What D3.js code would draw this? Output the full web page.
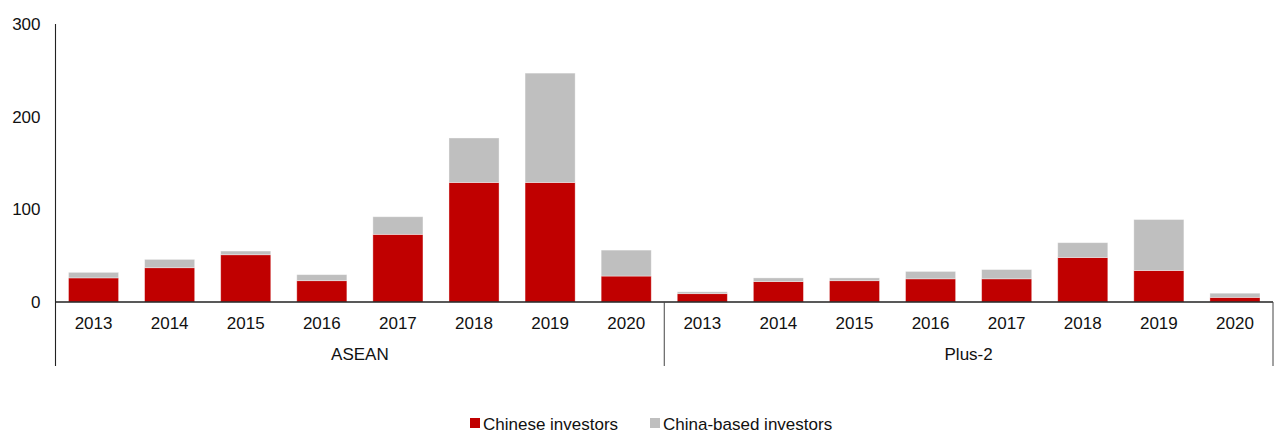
<!DOCTYPE html>
<html>
<head>
<meta charset="utf-8">
<script src="https://d3js.org/d3.v7.min.js"></script>
<style>
  html, body { margin: 0; padding: 0; background: #fff; }
  svg { display: block; font-family: Arial, "Liberation Sans", sans-serif; }
</style>
</head>
<body>
<div id="chart"></div>
<script>
// ── data ─────────────────────────────────────────────────────────────────────
const groups = ['ASEAN', 'Plus-2'];
const years = ['2013', '2014', '2015', '2016', '2017', '2018', '2019', '2020'];
const seriesNames = ['Chinese investors', 'China-based investors'];

const chineseASEAN = [26, 37, 51, 23, 73, 129, 129, 28];
const basedASEAN   = [6, 9, 4, 6.5, 19, 48, 118, 28];
const chinesePlus2 = [9, 22, 23, 25, 25, 48, 34, 5];
const basedPlus2   = [2, 4, 3, 8, 10, 16, 55, 4.5];

const yTicks = [0, 100, 200, 300];
const colors = ['#C00000', '#BFBFBF'];

// ── layout ───────────────────────────────────────────────────────────────────
const width = 1274, height = 433;
const margin = { top: 24, right: 1, bottom: 131, left: 55.5 };
const innerW = width - margin.left - margin.right;
const innerH = height - margin.top - margin.bottom;
const fontSize = 17;

const svg = d3.select('#chart').append('svg')
    .attr('width', width)
    .attr('height', height);

const g = svg.append('g').attr('transform', `translate(${margin.left},${margin.top})`);

const y = d3.scaleLinear().domain([0, 300]).range([innerH, 0]);

const xGroup = d3.scaleBand().domain(groups).range([0, innerW]);
const xYear = d3.scaleBand().domain(years)
    .range([0, xGroup.bandwidth()])
    .paddingInner(0.342)
    .paddingOuter(0.171);

// build table rows per group
const rows = [
    { group: 'ASEAN', chinese: chineseASEAN, based: basedASEAN },
    { group: 'Plus-2', chinese: chinesePlus2, based: basedPlus2 }
];

const stack = d3.stack().keys(['chinese', 'based']);

rows.forEach(row => {
    const table = years.map((yr, i) => ({ year: yr, chinese: row.chinese[i], based: row.based[i] }));
    const layers = stack(table);
    const gg = g.append('g').attr('transform', `translate(${xGroup(row.group)},0)`);

    gg.selectAll('g.layer')
        .data(layers)
        .join('g')
        .attr('class', 'layer')
        .attr('fill', (d, i) => colors[i])
        .selectAll('rect')
        .data(d => d)
        .join('rect')
        .attr('x', d => xYear(d.data.year))
        .attr('y', d => y(d[1]))
        .attr('width', xYear.bandwidth())
        .attr('height', d => y(d[0]) - y(d[1]))
        .attr('stroke', '#fff')
        .attr('stroke-opacity', 0.45)
        .attr('stroke-width', 0.8);

    // year labels
    gg.selectAll('text.year')
        .data(years)
        .join('text')
        .attr('class', 'year')
        .attr('x', d => xYear(d) + xYear.bandwidth() / 2)
        .attr('y', innerH + 27)
        .attr('text-anchor', 'middle')
        .attr('font-size', fontSize)
        .attr('fill', '#111')
        .text(d => d);

    // group label
    gg.append('text')
        .attr('x', xGroup.bandwidth() / 2)
        .attr('y', innerH + 58)
        .attr('text-anchor', 'middle')
        .attr('font-size', fontSize)
        .attr('fill', '#111')
        .text(row.group);
});

// baseline
g.append('line')
    .attr('x1', 0).attr('x2', innerW)
    .attr('y1', y(0)).attr('y2', y(0))
    .attr('stroke', '#222').attr('stroke-width', 1.3);

// y axis line
g.append('line')
    .attr('x1', 0).attr('x2', 0)
    .attr('y1', 0).attr('y2', innerH + 64)
    .attr('stroke', '#222').attr('stroke-width', 1.1);

// group separators
[xGroup('Plus-2'), innerW].forEach(xv => {
    g.append('line')
        .attr('x1', xv).attr('x2', xv)
        .attr('y1', innerH).attr('y2', innerH + 64)
        .attr('stroke', '#444').attr('stroke-width', 1);
});

// y tick labels
g.selectAll('text.ytick')
    .data(yTicks)
    .join('text')
    .attr('class', 'ytick')
    .attr('x', -15)
    .attr('y', d => y(d))
    .attr('dy', '0.35em')
    .attr('text-anchor', 'end')
    .attr('font-size', fontSize)
    .attr('fill', '#111')
    .text(d => d);

// legend
const legendX = [470, 650];
const legend = svg.append('g');
seriesNames.forEach((name, i) => {
    legend.append('rect')
        .attr('x', legendX[i])
        .attr('y', 418)
        .attr('width', 10)
        .attr('height', 10)
        .attr('fill', colors[i]);
    legend.append('text')
        .attr('x', legendX[i] + 13)
        .attr('y', 430)
        .attr('font-size', fontSize)
        .attr('fill', '#111')
        .text(name);
});
</script>
</body>
</html>
